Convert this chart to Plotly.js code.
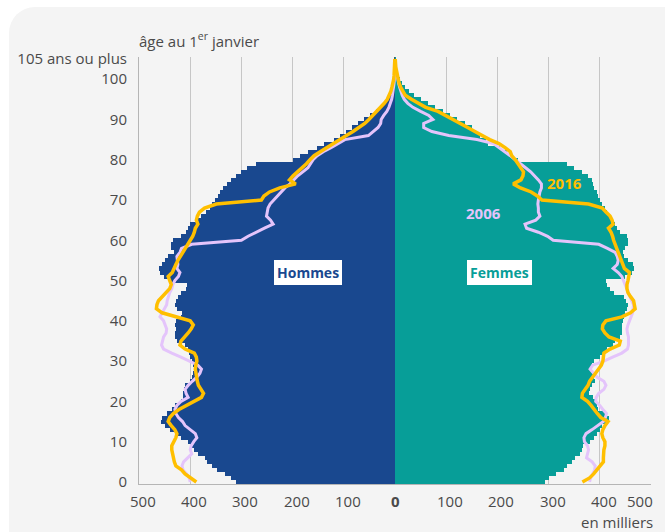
<!DOCTYPE html>
<html>
<head>
<meta charset="utf-8">
<script src="https://cdn.plot.ly/plotly-3.0.1.min.js"></script>
<style>
html,body{margin:0;padding:0;background:#ffffff;width:665px;height:532px;overflow:hidden;}
#card{position:absolute;left:9px;top:7px;width:700px;height:600px;background:#f4f4f4;border-radius:26px;}
#chart{position:absolute;left:0;top:0;width:665px;height:532px;}
</style>
</head>
<body>
<div id="card"></div>
<div id="chart"></div>
<script>
// Ages 0..105 (105 = "105 ans ou plus")
const ages = Array.from({length: 106}, (_, i) => i);

// Population au 1er janvier 2026, en milliers
const hommes2026 = [
 310,320,333,348,358,367,372,385,392,398,
 404,418,424,439,450,457,455,445,435,430,
 418,414,414,412,410,400,396,394,393,394,
 396,400,402,404,410,426,430,430,428,430,
 428,418,416,426,430,428,424,418,408,406,
 440,452,459,461,456,449,443,432,437,437,
 434,418,408,405,400,388,378,370,362,358,
 352,346,341,336,329,320,310,300,290,272,
 200,186,170,152,138,120,108,96,84,72,
 60,48,37,28,20,14,10,7,5,3,
 2,1.4,1,0.6,0.4,0.5];
const femmes2026 = [
 292,300,314,330,336,346,352,362,365,368,
 380,388,395,400,404,416,418,412,396,394,
 390,386,378,380,384,390,388,386,384,384,
 388,400,408,415,425,430,440,443,443,443,
 445,447,450,454,455,452,448,428,420,415,
 412,450,462,466,464,456,448,446,450,456,
 455,453,440,433,430,425,420,415,410,405,
 400,396,394,388,387,384,376,365,350,335,
 240,228,218,205,182,178,166,158,150,137,
 122,108,94,78,64,50,38,28,20,13,
 9,6,4,2.5,1.5,2];

// 2016
const hommes2016 = [
 388,400,410,417,428,431,433,434,436,436,
 432,428,426,430,437,443,440,433,422,408,
 392,378,374,380,384,386,387,389,390,389,
 387,388,392,410,420,418,410,404,398,394,
 400,428,455,466,465,462,455,448,440,437,
 440,443,435,432,428,424,419,414,409,404,
 400,395,392,390,385,388,386,382,372,349,
 261,256,245,225,194,206,199,190,182,173,
 166,158,146,134,121,108,95,82,70,59,
 51,43,35,28,21,15,11,8,6,4,
 2.5,1.8,1.2,0.8,0.5,0.3];
const femmes2016 = [
 366,380,388,394,402,407,407,407,408,410,
 410,406,404,406,410,416,402,395,390,383,
 376,365,366,372,377,380,386,392,398,403,
 406,407,408,420,438,440,418,410,405,406,
 412,443,460,469,468,466,460,455,453,453,
 455,456,458,448,445,441,438,435,433,430,
 427,425,422,417,426,424,420,412,405,378,
 287,278,266,245,231,246,250,251,246,241,
 235,228,225,215,203,185,172,156,142,128,
 112,100,84,60,45,32,20,15,11,8,
 6,4,2.5,1.5,1,0.5];

// 2006
const hommes2006 = [
 400,402,407,414,416,413,405,397,400,398,
 393,387,390,400,410,415,423,428,430,426,
 418,404,408,410,404,396,387,381,378,385,
 400,418,436,452,456,454,452,447,446,449,
 452,459,455,450,446,445,443,440,436,434,
 430,423,420,426,424,425,426,420,417,397,
 300,287,272,255,238,243,251,250,248,244,
 237,230,222,215,205,198,190,180,170,165,
 160,152,140,125,110,98,52,42,33,28,
 27,22,16,12,9,6.5,5,3.5,2.5,1.8,
 1.2,0.8,0.5,0.3,0.2,0.1];
const femmes2006 = [
 380,382,386,390,391,385,374,376,378,376,
 370,369,373,385,397,407,411,413,406,400,
 392,393,398,408,412,408,395,388,381,386,
 408,425,443,454,456,456,456,454,453,455,
 458,462,464,465,466,462,459,456,452,449,
 446,443,436,426,434,436,434,430,415,398,
 309,298,280,257,254,275,283,280,280,279,
 280,281,283,286,286,280,273,265,255,246,
 235,225,215,203,192,160,105,72,56,56,
 74,66,50,35,25,18,14,11,9,7,
 5,3.5,2.5,1.5,1,0.5];

const xTickVals = [-500,-400,-300,-200,-100,0,100,200,300,400,500];
const xTickText = ['500','400','300','200','100','<b>0</b>','100','200','300','400','500'];
const yTickVals = [0,10,20,30,40,50,60,70,80,90,100,105];
const yTickText = ['0','10','20','30','40','50','60','70','80','90','100','105 ans ou plus'];

const neg = a => a.map(v => -v);
const colH = '#19488f', colF = '#079e98', col16 = '#ffbf00', col06 = '#e4c4fb';
const txt = '#4a4a4a';

const traces = [
  {type:'bar', orientation:'h', y: ages, x: neg(hommes2026), width: 1,
   marker:{color: colH, line:{width:0}}, hoverinfo:'skip', showlegend:false},
  {type:'bar', orientation:'h', y: ages, x: femmes2026, width: 1,
   marker:{color: colF, line:{width:0}}, hoverinfo:'skip', showlegend:false},
  {type:'scatter', mode:'lines', y: ages, x: neg(hommes2006),
   line:{color: col06, width:3}, hoverinfo:'skip', showlegend:false},
  {type:'scatter', mode:'lines', y: ages, x: femmes2006,
   line:{color: col06, width:3}, hoverinfo:'skip', showlegend:false},
  {type:'scatter', mode:'lines', y: ages, x: neg(hommes2016),
   line:{color: col16, width:3.5}, hoverinfo:'skip', showlegend:false},
  {type:'scatter', mode:'lines', y: ages, x: femmes2016,
   line:{color: col16, width:3.5}, hoverinfo:'skip', showlegend:false}
];

// x tick labels drawn as annotations so that the outer labels stay inside the card
const xLabelAnn = xTickVals.map((v, i) => ({
  x: v, y: 0, xref: 'x', yref: 'paper', yanchor: 'middle', yshift: -17,
  xshift: v === 0 ? 0 : (v === 500 ? -11 : 4),
  text: xTickText[i], showarrow: false, font: {size: 15, color: txt}
}));

const layout = {
  width: 665, height: 532,
  margin: {l:139, r:14, t:57, b:48, pad:0},
  paper_bgcolor: 'rgba(0,0,0,0)',
  plot_bgcolor: 'rgba(0,0,0,0)',
  font: {family: '"Open Sans", "Noto Sans", sans-serif', size: 15, color: txt},
  barmode: 'overlay', bargap: 0,
  title: {text: 'âge au 1<sup>er</sup> janvier', x: 0, xref: 'paper', xanchor: 'left',
          y: 0.922, yref: 'container', yanchor: 'middle',
          font: {size: 15, color: txt}},
  xaxis: {range: [-500, 500], tickvals: xTickVals, showticklabels: false,
          showgrid: true, gridcolor: '#c6c6c6', gridwidth: 1,
          zeroline: true, zerolinecolor: '#555555', zerolinewidth: 1.2,
          showline: true, linecolor: '#b5b5b5', linewidth: 1,
          ticks: '', fixedrange: true},
  yaxis: {range: [-0.5, 105.5], tickvals: yTickVals, ticktext: yTickText,
          showgrid: false, zeroline: false,
          showline: true, linecolor: '#b5b5b5', linewidth: 1,
          ticks: '', ticklabelstandoff: 8, fixedrange: true,
          tickfont: {size: 15, color: txt}},
  annotations: xLabelAnn.concat([
    {x: -170, y: 51.9, xref:'x', yref:'y', text: '<b>Hommes</b>', showarrow:false,
     font:{size:14, color: colH}, bgcolor:'#ffffff', bordercolor:'#ffffff', borderpad:2, borderwidth:1},
    {x: 205, y: 51.9, xref:'x', yref:'y', text: '<b>Femmes</b>', showarrow:false,
     font:{size:14, color: colF}, bgcolor:'#ffffff', bordercolor:'#ffffff', borderpad:2, borderwidth:1},
    {x: 332, y: 74.2, xref:'x', yref:'y', text: '<b>2016</b>', showarrow:false,
     font:{size:15, color: col16}},
    {x: 172, y: 66.7, xref:'x', yref:'y', text: '<b>2006</b>', showarrow:false,
     font:{size:15, color: col06}},
    {x: 1, y: 0, xref:'paper', yref:'paper', xanchor:'right', yanchor:'middle', xshift: 4, yshift: -38,
     text: 'en milliers', showarrow:false, font:{size:15, color: txt}}
  ])
};

Plotly.newPlot('chart', traces, layout, {staticPlot: true, displayModeBar: false});
</script>
</body>
</html>
